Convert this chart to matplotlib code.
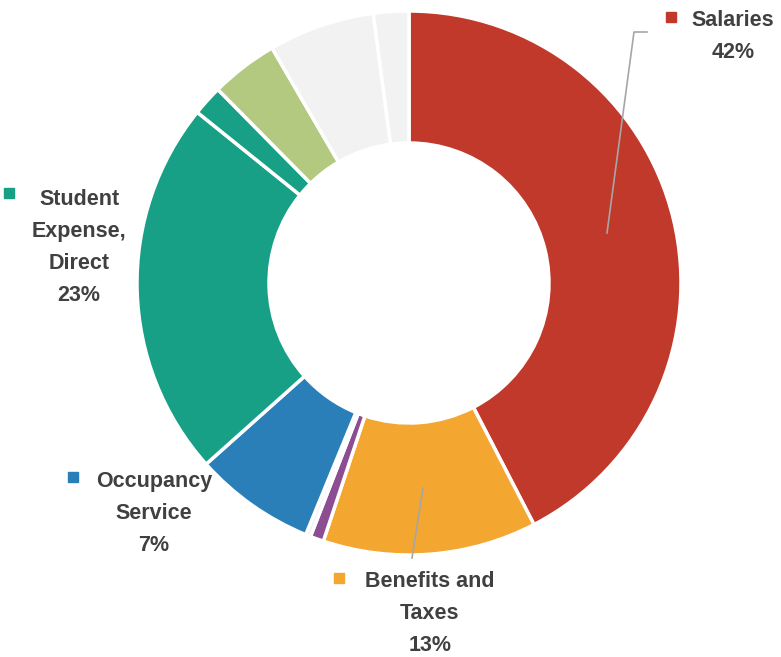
import matplotlib.pyplot as plt
from matplotlib.patches import Rectangle

# datos de la dona (porcentaje aproximado)
categorias = ["Salaries", "Benefits and Taxes", "Other A", "Other B", "Occupancy Service",
              "Student Expense, Direct", "Other C", "Other D", "Other E", "Other F"]
valores = [42.4, 12.7, 0.8, 0.3, 7.2, 22.4, 1.8, 4.0, 6.3, 2.1]
colores = ["#C0392B", "#F3A630", "#8C4D93", "#F2F2F2", "#2A7FB8",
           "#17A085", "#17A085", "#B3C97F", "#F2F2F2", "#F2F2F2"]

# etiquetas visibles: (lineas, pct)
etiquetas = {
    "Salaries": (["Salaries"], "42%"),
    "Student Expense, Direct": (["Student", "Expense,", "Direct"], "23%"),
    "Occupancy Service": (["Occupancy", "Service"], "7%"),
    "Benefits and Taxes": (["Benefits and", "Taxes"], "13%"),
}

H = 657


def py(y):
    # pasar de pixeles (desde arriba) a coordenadas del eje
    return H - y


fig = plt.figure(figsize=(7.81, 6.57), dpi=100)
ax = fig.add_axes([0, 0, 1, 1])

ax.pie(valores, colors=colores, center=(409, py(283)), radius=272,
       startangle=90, counterclock=False,
       wedgeprops=dict(width=132, edgecolor="white", linewidth=2.5))
ax.set_xlim(0, 781)
ax.set_ylim(0, H)
ax.set_aspect("equal")
ax.axis("off")

texto = "#404040"
fuente = "Liberation Sans"

# posiciones de las etiquetas: (x centro, baseline primera linea, cuadrito x, cuadrito y)
pos = {
    "Salaries": (733, 26, 666, 12),
    "Student Expense, Direct": (79, 205, 4, 188),
    "Occupancy Service": (154, 487, 68, 472),
    "Benefits and Taxes": (430, 587, 334, 573),
}
paso = 32

for nombre, (lineas, pct) in etiquetas.items():
    x, y0, mx, my = pos[nombre]
    color = colores[categorias.index(nombre)]
    for i, t in enumerate(lineas + [pct]):
        ax.text(x, py(y0 + i * paso), t, ha="center", va="baseline", fontsize=15.5,
                fontweight="bold", color=texto, family=fuente)
    ax.add_patch(Rectangle((mx, py(my + 10)), 10, 10, color=color))

# lineas guia
ax.plot([647, 634, 607], [py(32), py(32), py(233)], color="#A6A6A6", lw=1.2)
ax.plot([423, 412], [py(488), py(558)], color="#A6A6A6", lw=1.2)

fig.savefig("out.png", dpi=100)
